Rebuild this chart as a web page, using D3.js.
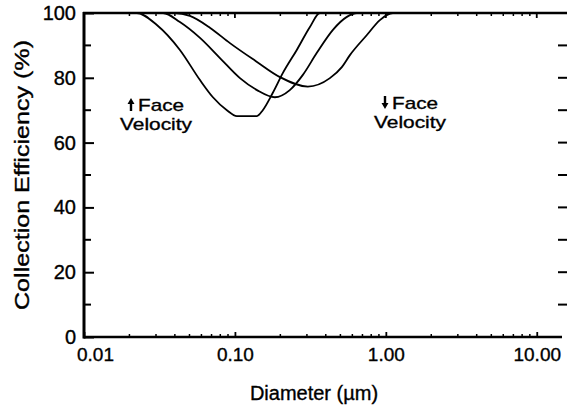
<!DOCTYPE html>
<html>
<head>
<meta charset="utf-8">
<script src="https://cdnjs.cloudflare.com/ajax/libs/d3/7.8.5/d3.min.js"></script>
<style>
    body { margin: 0; background: #fff; }
    svg { display: block; font-family: "Liberation Sans", Arial, sans-serif; }
    svg text { stroke: #000; stroke-width: 0.35px; fill: #000; }
</style>
</head>
<body>
<div id="chart"></div>
<script>
// diameter (um) and collection efficiency (%) for the three face velocities
var diamLow  = [0.01, 0.0224, 0.0304, 0.0432, 0.0587, 0.0715, 0.0885, 0.103, 0.140, 0.153, 0.178, 0.208, 0.257, 0.314, 0.366, 14.7];
var effLow   = [100, 100, 96.3, 88.6, 79.3, 74.0, 70.0, 68.2, 68.2, 70.0, 75.3, 81.5, 88.6, 95.7, 100, 100];

var diamMid  = [0.01, 0.0334, 0.0432, 0.0587, 0.0796, 0.108, 0.140, 0.184, 0.231, 0.282, 0.349, 0.446, 0.552, 0.643, 14.7];
var effMid   = [100, 100, 97.2, 92.3, 86.1, 79.9, 76.2, 74.0, 76.2, 80.9, 87.7, 94.8, 98.8, 100, 100];

var diamHigh = [0.01, 0.0400, 0.0503, 0.0686, 0.0927, 0.137, 0.199, 0.304, 0.426, 0.511, 0.578, 0.749, 0.913, 1.113, 14.7];
var effHigh  = [100, 100, 99.1, 95.4, 90.7, 85.2, 80.2, 77.3, 79.9, 83.3, 87.0, 93.2, 97.8, 100, 100];

var xTicks = [0.01, 0.1, 1, 10];
var yTicks = [0, 20, 40, 60, 80, 100];

var width = 567;
var height = 409;

var x = d3.scaleLog().domain([0.01, 14.7]).range([84, 562]);
var y = d3.scaleLinear().domain([0, 100]).range([337, 13]);

var svg = d3.select('#chart').append('svg')
    .attr('width', width)
    .attr('height', height);

// minor log ticks on top and bottom
var minor = [];
[0.01, 0.1, 1, 10].forEach(function(dec) {
    for (var k = 2; k <= 9; k++) {
        if (dec * k <= 14.7) minor.push(dec * k);
    }
});

svg.selectAll('.minorB')
    .data(minor)
  .enter().append('line')
    .attr('x1', function(d) { return x(d); })
    .attr('x2', function(d) { return x(d); })
    .attr('y1', 337)
    .attr('y2', 334)
    .attr('stroke', '#000')
    .attr('stroke-width', 1.5);

svg.selectAll('.minorT')
    .data(minor)
  .enter().append('line')
    .attr('x1', function(d) { return x(d); })
    .attr('x2', function(d) { return x(d); })
    .attr('y1', 13)
    .attr('y2', 16)
    .attr('stroke', '#000')
    .attr('stroke-width', 1.5);

svg.selectAll('.majorT')
    .data(xTicks)
  .enter().append('line')
    .attr('x1', function(d) { return x(d); })
    .attr('x2', function(d) { return x(d); })
    .attr('y1', 13)
    .attr('y2', 18)
    .attr('stroke', '#000')
    .attr('stroke-width', 1.8);

// x axis
var xAxis = svg.append('g')
    .attr('transform', 'translate(0,337)')
    .call(d3.axisBottom(x)
        .tickValues(xTicks)
        .tickFormat(d3.format('.2f'))
        .tickSize(-5)
        .tickPadding(11));

xAxis.select('.domain').remove();
xAxis.selectAll('line').attr('stroke-width', 1.8);
xAxis.selectAll('text')
    .attr('font-size', 19)
    .attr('font-family', '"Liberation Sans", Arial, sans-serif')
    .attr('dx', function(d) { return d === 0.01 ? 11 : 0; });

// y axis, major and minor
var yAxis = svg.append('g')
    .attr('transform', 'translate(84,0)')
    .call(d3.axisLeft(y)
        .tickValues(yTicks)
        .tickSize(-10)
        .tickPadding(8));

yAxis.select('.domain').remove();
yAxis.selectAll('line').attr('stroke-width', 2);
yAxis.selectAll('text')
    .attr('font-size', 20)
    .attr('font-family', '"Liberation Sans", Arial, sans-serif');

svg.selectAll('.yminor')
    .data([10, 30, 50, 70, 90])
  .enter().append('line')
    .attr('x1', 84)
    .attr('x2', 91)
    .attr('y1', function(d) { return y(d); })
    .attr('y2', function(d) { return y(d); })
    .attr('stroke', '#000')
    .attr('stroke-width', 2);

// right side ticks (no axis line)
svg.selectAll('.rtick')
    .data([10, 20, 30, 40, 50, 60, 70, 80, 90])
  .enter().append('line')
    .attr('x1', 558)
    .attr('x2', 567)
    .attr('y1', function(d) { return y(d); })
    .attr('y2', function(d) { return y(d); })
    .attr('stroke', '#000')
    .attr('stroke-width', 2);

// frame lines
svg.append('line')
    .attr('x1', 84).attr('x2', 84)
    .attr('y1', 12).attr('y2', 338.5)
    .attr('stroke', '#000').attr('stroke-width', 3);
svg.append('line')
    .attr('x1', 83).attr('x2', 562)
    .attr('y1', 337).attr('y2', 337)
    .attr('stroke', '#000').attr('stroke-width', 2.5);
svg.append('line')
    .attr('x1', 83).attr('x2', 567)
    .attr('y1', 13).attr('y2', 13)
    .attr('stroke', '#000').attr('stroke-width', 2.5);

// curves
var series = [
    { d: diamLow, e: effLow },
    { d: diamMid, e: effMid },
    { d: diamHigh, e: effHigh }
];

var line = d3.line()
    .x(function(p) { return x(p[0]); })
    .y(function(p) { return y(p[1]); })
    .curve(d3.curveMonotoneX);

svg.selectAll('.curve')
    .data(series)
  .enter().append('path')
    .attr('class', 'curve')
    .attr('d', function(s) { return line(d3.zip(s.d, s.e)); })
    .attr('fill', 'none')
    .attr('stroke', '#000')
    .attr('stroke-width', 1.8);

// annotations
function note(cx, fy, up) {
    svg.append('text')
        .attr('x', cx - 18)
        .attr('y', fy)
        .attr('font-size', 17)
        .attr('textLength', 46)
        .attr('lengthAdjust', 'spacingAndGlyphs')
        .text('Face');
    svg.append('text')
        .attr('x', cx - 36)
        .attr('y', fy + 19)
        .attr('font-size', 17)
        .attr('textLength', 72)
        .attr('lengthAdjust', 'spacingAndGlyphs')
        .text('Velocity');
    var ax = cx - 25;
    var top = fy - 13;
    var p = up
        ? 'M' + ax + ',' + top + 'l-3.5,6h2.3v7h2.4v-7h2.3z'
        : 'M' + ax + ',' + (top + 13) + 'l-3.5,-6h2.3v-7h2.4v7h2.3z';
    svg.append('path').attr('d', p).attr('fill', '#000');
}

note(156, 111, true);
note(410, 109, false);

// axis titles
svg.append('text')
    .attr('x', 314)
    .attr('y', 400)
    .attr('font-size', 20)
    .attr('text-anchor', 'middle')
    .text('Diameter (\u00b5m)');

svg.append('text')
    .attr('transform', 'translate(29,175) rotate(-90)')
    .attr('font-size', 21)
    .attr('text-anchor', 'middle')
    .attr('textLength', 270)
    .attr('lengthAdjust', 'spacingAndGlyphs')
    .text('Collection Efficiency (%)');
</script>
</body>
</html>
